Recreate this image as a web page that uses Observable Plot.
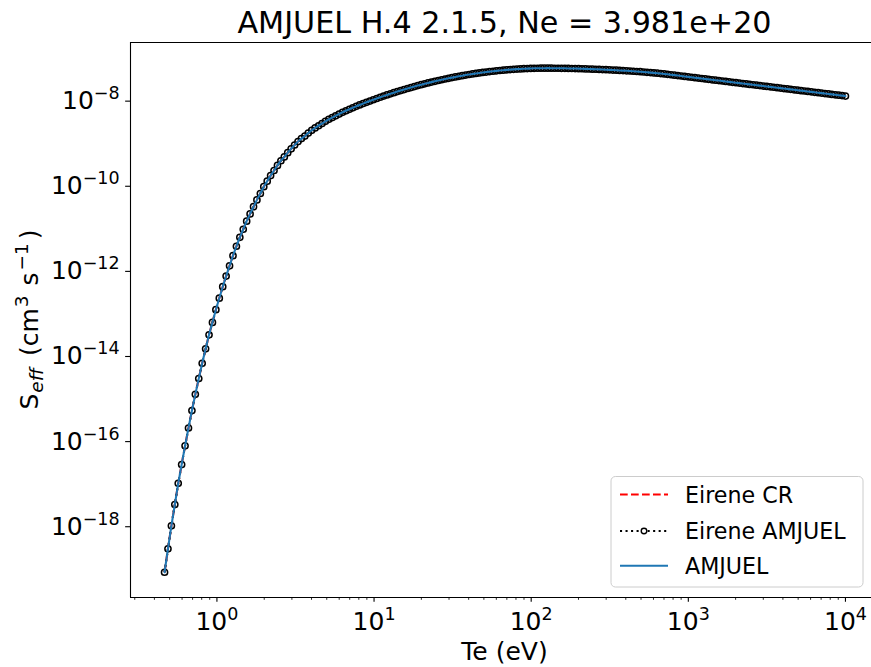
<!DOCTYPE html>
<html><head><meta charset="utf-8">
<script src="https://cdn.jsdelivr.net/npm/d3@7"></script>
<script src="https://cdn.jsdelivr.net/npm/@observablehq/plot@0.6"></script>
<style>
html,body{margin:0;padding:0;background:#fff;}
#chart{position:relative;width:871px;height:667px;overflow:hidden;}
</style></head><body><div id="chart"></div>
<script>
// log10(Te / eV) grid (200 points)
const logTe = [
-0.3333,-0.3116,-0.2898,-0.2680,-0.2462,-0.2245,-0.2027,-0.1809,-0.1591,-0.1374,
-0.1156,-0.0938,-0.0720,-0.0502,-0.0285,-0.0067,0.0151,0.0369,0.0586,0.0804,
0.1022,0.1240,0.1458,0.1675,0.1893,0.2111,0.2329,0.2546,0.2764,0.2982,
0.3200,0.3417,0.3635,0.3853,0.4071,0.4288,0.4506,0.4724,0.4942,0.5160,
0.5377,0.5595,0.5813,0.6031,0.6248,0.6466,0.6684,0.6902,0.7119,0.7337,
0.7555,0.7773,0.7990,0.8208,0.8426,0.8644,0.8861,0.9079,0.9297,0.9515,
0.9732,0.9950,1.0168,1.0386,1.0603,1.0821,1.1039,1.1257,1.1474,1.1692,
1.1910,1.2128,1.2346,1.2563,1.2781,1.2999,1.3217,1.3434,1.3652,1.3870,
1.4088,1.4305,1.4523,1.4741,1.4959,1.5176,1.5394,1.5612,1.5830,1.6047,
1.6265,1.6483,1.6701,1.6918,1.7136,1.7354,1.7572,1.7789,1.8007,1.8225,
1.8443,1.8661,1.8878,1.9096,1.9314,1.9532,1.9749,1.9967,2.0185,2.0403,
2.0620,2.0838,2.1056,2.1274,2.1491,2.1709,2.1927,2.2145,2.2362,2.2580,
2.2798,2.3016,2.3233,2.3451,2.3669,2.3887,2.4104,2.4322,2.4540,2.4758,
2.4975,2.5193,2.5411,2.5629,2.5846,2.6064,2.6282,2.6500,2.6717,2.6935,
2.7153,2.7371,2.7588,2.7806,2.8024,2.8242,2.8460,2.8677,2.8895,2.9113,
2.9331,2.9548,2.9766,2.9984,3.0202,3.0419,3.0637,3.0855,3.1073,3.1290,
3.1508,3.1726,3.1944,3.2161,3.2379,3.2597,3.2815,3.3032,3.3250,3.3468,
3.3686,3.3903,3.4121,3.4339,3.4557,3.4774,3.4992,3.5210,3.5428,3.5645,
3.5863,3.6081,3.6299,3.6516,3.6734,3.6952,3.7170,3.7387,3.7605,3.7823,
3.8041,3.8258,3.8476,3.8694,3.8912,3.9129,3.9347,3.9565,3.9783,4.0000];

// log10(S_eff / cm^3 s^-1)
const amjuelLogS = [
-19.07,-18.52,-17.98,-17.48,-16.98,-16.54,-16.10,-15.68,-15.27,-14.89,
-14.52,-14.16,-13.82,-13.49,-13.20,-12.90,-12.63,-12.36,-12.11,-11.87,
-11.63,-11.41,-11.20,-11.01,-10.82,-10.65,-10.48,-10.32,-10.17,-10.01,
-9.88,-9.75,-9.63,-9.51,-9.40,-9.31,-9.21,-9.12,-9.03,-8.95,
-8.88,-8.82,-8.75,-8.685,-8.63,-8.578,-8.526,-8.474,-8.427,-8.386,
-8.345,-8.303,-8.262,-8.227,-8.192,-8.157,-8.122,-8.089,-8.058,-8.028,
-7.998,-7.967,-7.938,-7.909,-7.882,-7.854,-7.828,-7.802,-7.776,-7.751,
-7.727,-7.703,-7.680,-7.657,-7.635,-7.614,-7.593,-7.573,-7.553,-7.534,
-7.515,-7.497,-7.480,-7.463,-7.447,-7.431,-7.416,-7.402,-7.388,-7.374,
-7.361,-7.349,-7.338,-7.326,-7.316,-7.306,-7.297,-7.288,-7.280,-7.272,
-7.265,-7.259,-7.253,-7.247,-7.243,-7.238,-7.235,-7.232,-7.229,-7.227,
-7.226,-7.2255,-7.225,-7.226,-7.227,-7.227,-7.228,-7.229,-7.231,-7.233,
-7.234,-7.236,-7.239,-7.242,-7.245,-7.248,-7.251,-7.254,-7.258,-7.261,
-7.265,-7.269,-7.273,-7.278,-7.282,-7.287,-7.292,-7.298,-7.303,-7.308,
-7.315,-7.322,-7.329,-7.336,-7.343,-7.352,-7.361,-7.370,-7.380,-7.389,
-7.399,-7.409,-7.419,-7.429,-7.439,-7.449,-7.459,-7.468,-7.478,-7.488,
-7.498,-7.508,-7.517,-7.527,-7.537,-7.547,-7.557,-7.566,-7.576,-7.586,
-7.596,-7.606,-7.615,-7.625,-7.635,-7.645,-7.655,-7.664,-7.674,-7.684,
-7.694,-7.704,-7.713,-7.723,-7.733,-7.743,-7.753,-7.762,-7.772,-7.782,
-7.792,-7.802,-7.811,-7.821,-7.831,-7.841,-7.851,-7.860,-7.870,-7.880];

// The three curves coincide on the picture
const eireneAmjuelLogS = amjuelLogS;
const eireneCRLogS = amjuelLogS;

const seriesNames = ["Eirene CR", "Eirene AMJUEL", "AMJUEL"];
const seriesColors = ["red", "black", "#1f77b4"];
const titleText = "AMJUEL H.4 2.1.5, Ne = 3.981e+20";
const xLabel = "Te (eV)";
const xTicks = [1, 10, 100, 1000, 10000];
const xTickExp = ["0", "1", "2", "3", "4"];
const xMinorTicks = [0.3,0.4,0.5,0.6,0.7,0.8,0.9, 2,3,4,5,6,7,8,9, 20,30,40,50,60,70,80,90,
  200,300,400,500,600,700,800,900, 2000,3000,4000,5000,6000,7000,8000,9000];
const yTicks = [1e-18, 1e-16, 1e-14, 1e-12, 1e-10, 1e-8];
const yTickExp = ["\u221218", "\u221216", "\u221214", "\u221212", "\u221210", "\u22128"];

const rows = logTe.map((t, i) => ({
  te: 10 ** t,
  cr: 10 ** eireneCRLogS[i],
  ea: 10 ** eireneAmjuelLogS[i],
  am: 10 ** amjuelLogS[i]
}));

const W = 871, H = 667, L = 130, T = 42, B = 597, R = 879;
const xDom = [10 ** -0.55, 10 ** 4.2167];
const yDom = [10 ** -19.663, 10 ** -6.622];

const plot = Plot.plot({
  width: W, height: H,
  marginLeft: L, marginRight: 0, marginTop: T, marginBottom: H - B,
  style: {fontFamily: "DejaVu Sans", fontSize: "25px", color: "black", background: "white", overflow: "hidden"},
  x: {type: "log", domain: xDom, range: [L, R]},
  y: {type: "log", domain: yDom, range: [B, T]},
  marks: [
    Plot.line(rows, {x: "te", y: "cr", stroke: seriesColors[0], strokeWidth: 2.08, strokeDasharray: "7.7,3.3", strokeLinecap: "butt"}),
    Plot.line(rows, {x: "te", y: "ea", stroke: seriesColors[1], strokeWidth: 2.08, strokeDasharray: "2.08,3.44", strokeLinecap: "butt"}),
    Plot.dot(rows, {x: "te", y: "ea", r: 3.1, stroke: seriesColors[1], strokeWidth: 1.5, fill: "none"}),
    Plot.line(rows, {x: "te", y: "am", stroke: seriesColors[2], strokeWidth: 2.08}),
    Plot.axisX(xMinorTicks, {tickSize: 2.8, strokeWidth: 0.83, tickFormat: () => "", label: null}),
    Plot.axisX(xTicks, {tickSize: 4.86, strokeWidth: 1.1, tickPadding: 10, label: null,
      tickFormat: (d) => "10^" + xTickExp[xTicks.indexOf(d)]}),
    Plot.axisY(yTicks, {tickSize: 4.86, strokeWidth: 1.1, tickPadding: 6, label: null,
      tickFormat: (d) => "10^" + yTickExp[yTicks.indexOf(d)]}),
    Plot.ruleX([xDom[0]], {stroke: "black", strokeWidth: 1.1}),
    Plot.ruleY([yDom[0], yDom[1]], {stroke: "black", strokeWidth: 1.1})
  ]
});

document.getElementById("chart").appendChild(plot);

const svg = d3.select(plot);
// superscript exponents on tick labels
svg.selectAll('g[aria-label$="tick label"] text').each(function () {
  const m = /^10\^(.+)$/.exec(this.textContent);
  if (!m) return;
  const t = d3.select(this);
  t.text("");
  t.append("tspan").text("10");
  t.append("tspan").attr("font-size", "17.5px").attr("dy", "-10").text(m[1]);
});

// title
svg.append("text").attr("x", (L + R) / 2).attr("y", 33).attr("text-anchor", "middle")
  .attr("font-size", "30.2px").attr("fill", "black").text(titleText);

// x label
svg.append("text").attr("x", (L + R) / 2).attr("y", 660).attr("text-anchor", "middle")
  .attr("font-size", "25px").attr("fill", "black").text(xLabel);

// y label: S_eff (cm^3 s^-1)
const yl = svg.append("text").attr("transform", `translate(38,${(T + B) / 2}) rotate(-90)`)
  .attr("text-anchor", "middle").attr("font-size", "25px").attr("fill", "black");
yl.append("tspan").text("S");
yl.append("tspan").attr("font-size", "18.5px").attr("font-style", "italic").attr("dy", 5).attr("dx", 1).text("eff");
yl.append("tspan").attr("dy", -5).attr("dx", 4).text(" (cm");
yl.append("tspan").attr("font-size", "18.5px").attr("dy", -10).attr("dx", 1).text("3");
yl.append("tspan").attr("dy", 10).attr("dx", 2).text(" s");
yl.append("tspan").attr("font-size", "18.5px").attr("dy", -10).attr("dx", 2).text("\u22121");
yl.append("tspan").attr("dy", 10).attr("dx", 4).text(")");

// legend
const lg = svg.append("g").attr("text-anchor", "start");
lg.append("rect").attr("x", 611).attr("y", 476.5).attr("width", 252).attr("height", 110.5)
  .attr("rx", 4.4).attr("fill", "white").attr("fill-opacity", 0.8)
  .attr("stroke", "#cccccc").attr("stroke-width", 1);
const rowsY = [494.5, 531, 565.7];
lg.append("line").attr("x1", 620).attr("x2", 668).attr("y1", rowsY[0]).attr("y2", rowsY[0])
  .attr("stroke", seriesColors[0]).attr("stroke-width", 2.08).attr("stroke-dasharray", "7.7,3.3");
lg.append("line").attr("x1", 620).attr("x2", 668).attr("y1", rowsY[1]).attr("y2", rowsY[1])
  .attr("stroke", seriesColors[1]).attr("stroke-width", 2.08).attr("stroke-dasharray", "2.08,3.44");
lg.append("circle").attr("cx", 644).attr("cy", rowsY[1]).attr("r", 2.78)
  .attr("fill", "white").attr("stroke", "black").attr("stroke-width", 1.39);
lg.append("line").attr("x1", 620).attr("x2", 668).attr("y1", rowsY[2]).attr("y2", rowsY[2])
  .attr("stroke", seriesColors[2]).attr("stroke-width", 2.08);
seriesNames.forEach((n, i) => {
  lg.append("text").attr("x", 685).attr("y", rowsY[i] + 8.3).attr("font-size", "22.2px")
    .attr("text-anchor", "start").attr("fill", "black").text(n);
});
</script></body></html>
